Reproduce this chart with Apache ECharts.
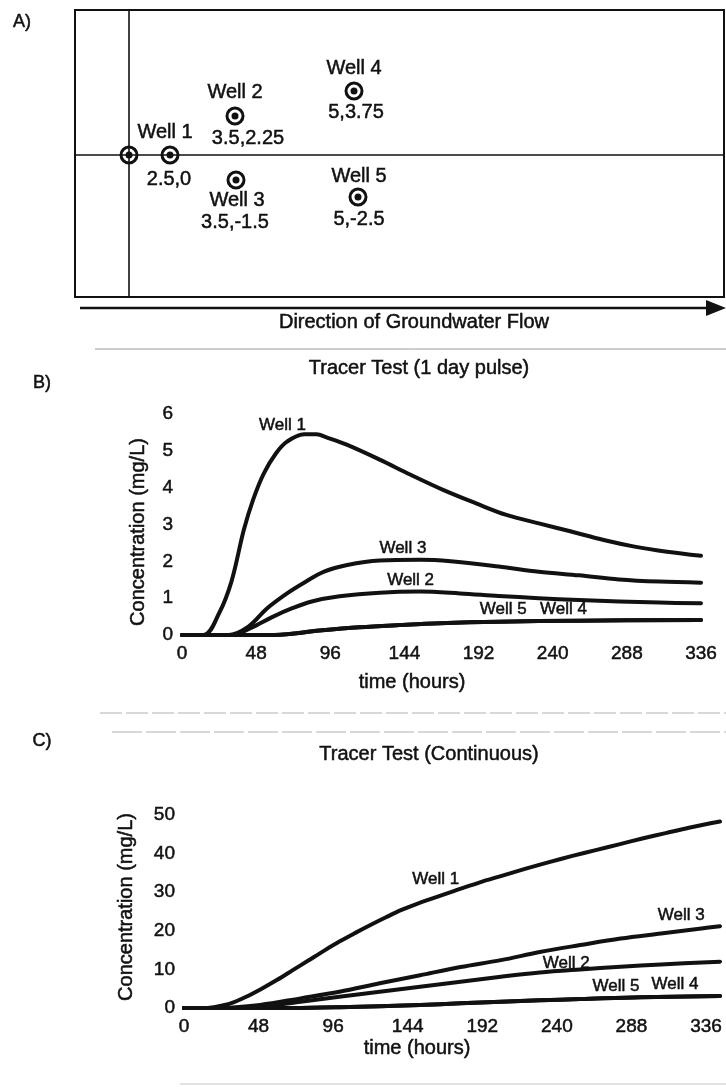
<!DOCTYPE html>
<html><head><meta charset="utf-8">
<script src="https://cdn.jsdelivr.net/npm/echarts@6/dist/echarts.min.js"></script>
<style>html,body{margin:0;padding:0;background:#fff}#c{width:726px;height:1087px}</style>
</head><body><div id="c"></div>
<script>
// ---------- Panel A: well layout (schematic, not to scale) ----------
const wellNames = ['Well 1', 'Well 2', 'Well 3', 'Well 4', 'Well 5'];
const wellCoordText = ['2.5,0', '3.5,2.25', '3.5,-1.5', '5,3.75', '5,-2.5'];
const wellMapX = [4.1, 10.6, 10.7, 22.5, 22.9];
const wellMapY = [0, 3.9, -2.5, 6.4, -4.2];
const sourceMapXY = [0, 0];

// ---------- Panel B: 1 day pulse (hours, mg/L) ----------
const hourTicks = [0, 48, 96, 144, 192, 240, 288, 336];
const pulseWell1 = [[0,0],[14,0],[24,0.59],[32,1.45],[40,2.85],[46,3.67],[53,4.39],[61,4.94],[68,5.25],[79,5.45],[87,5.45],[94,5.36],[107,5.16],[128,4.76],[148,4.35],[169,3.94],[190,3.58],[210,3.26],[231,3.03],[252,2.81],[273,2.58],[293,2.40],[314,2.26],[336,2.15]];
const pulseWell3 = [[0,0],[30,0],[43,0.23],[55,0.72],[68,1.13],[79,1.42],[92,1.72],[107,1.90],[128,2.02],[154,2.04],[174,2.0],[205,1.86],[231,1.72],[257,1.62],[283,1.51],[309,1.45],[336,1.42]];
const pulseWell2 = [[0,0],[32,0],[45,0.2],[58,0.48],[71,0.72],[84,0.91],[102,1.05],[128,1.15],[154,1.18],[180,1.13],[205,1.06],[231,1.0],[257,0.95],[283,0.91],[309,0.88],[336,0.86]];
const pulseWell5 = [[0,0],[60,0],[89,0.12],[115,0.21],[141,0.27],[167,0.32],[205,0.36],[257,0.39],[336,0.41]];
const pulseWell4 = [[0,0],[60,0],[89,0.12],[115,0.21],[141,0.27],[167,0.32],[205,0.36],[257,0.39],[336,0.41]];
const pulseYTicks = [0, 1, 2, 3, 4, 5, 6];
const pulseLabelNames = ['Well 1', 'Well 3', 'Well 2', 'Well 5', 'Well 4'];
const pulseLabelAt = [[65,5.68],[143,2.36],[148,1.48],[208,0.7],[247,0.7]];

// ---------- Panel C: continuous (hours, mg/L) ----------
const contWell1 = [[0,0],[15,0],[20,0.3],[30,1.2],[40,2.9],[50,5.0],[60,7.3],[70,9.8],[80,12.3],[90,14.8],[100,17.2],[110,19.4],[120,21.5],[130,23.5],[140,25.4],[150,27.0],[160,28.4],[175,30.5],[190,32.5],[205,34.3],[220,36.1],[235,37.8],[250,39.4],[265,40.9],[280,42.4],[295,43.9],[310,45.3],[325,46.7],[345,48.3]];
const contWell3 = [[0,0],[22,0],[49,0.8],[75,2.5],[100,4.2],[126,6.4],[152,8.5],[178,10.6],[204,12.4],[229,14.5],[255,16.3],[281,18.0],[307,19.3],[333,20.6],[345,21.2]];
const contWell2 = [[0,0],[30,0],[49,0.3],[75,1.6],[100,2.9],[126,4.2],[152,5.5],[178,6.8],[204,8.1],[229,9.2],[255,10.0],[281,10.7],[307,11.3],[345,12.0]];
const contWell5 = [[0,0],[70,0],[100,0.2],[152,0.8],[178,1.2],[204,1.6],[229,2.0],[255,2.3],[294,2.8],[345,3.1]];
const contWell4 = [[0,0],[70,0],[100,0.2],[152,0.8],[178,1.2],[204,1.6],[229,2.0],[255,2.3],[294,2.8],[345,3.1]];
const contYTicks = [0, 10, 20, 30, 40, 50];
const contLabelNames = ['Well 1', 'Well 3', 'Well 2', 'Well 5', 'Well 4'];
const contLabelAt = [[162,33.4],[320,24.1],[246,11.6],[278,5.5],[316,6.1]];

// ---------- styling / layout ----------
const FONT = '"Liberation Sans", Arial, Helvetica, sans-serif';
const INK = '#111111';
const nameOffsets = [[-5,-23],[0,-24],[1,20],[0,-23],[1,-21]];
const coordOffsets = [[-1,24],[13,22],[-1,42],[2,21],[1,22]];
const textInk = {color: INK, fontFamily: FONT, textBorderColor: INK, textBorderWidth: 0.5};
const clearItem = {color: 'rgba(0,0,0,0)', opacity: 1};

const chart = echarts.init(document.getElementById('c'), null, {renderer: 'canvas'});

function txt(x, y, text, size, extra) {
  return Object.assign({type: 'text', x: x, y: y, silent: true,
    style: {text: text, fill: INK, stroke: INK, lineWidth: 0.5, font: size + 'px ' + FONT,
      align: 'center', verticalAlign: 'middle'}}, extra || {});
}

const hiddenAxis = (idx, min, max) => ({gridIndex: idx, type: 'value', min: min, max: max,
  show: false, splitLine: {show: false}});

function curveSeries(name, data, axisIdx) {
  return {type: 'line', name: name, xAxisIndex: axisIdx, yAxisIndex: axisIdx, data: data,
    smooth: 0.35, showSymbol: false, symbol: 'none',
    lineStyle: {color: INK, width: 4, cap: 'round', join: 'round'}, animation: false, z: 3};
}
function labelSeries(names, at, axisIdx) {
  return {type: 'scatter', xAxisIndex: axisIdx, yAxisIndex: axisIdx, symbolSize: 1,
    itemStyle: clearItem, animation: false, silent: true, z: 5,
    data: names.map((n, i) => ({name: n, value: at[i]})),
    label: Object.assign({show: true, position: 'inside', formatter: '{b}', fontSize: 17}, textInk)};
}
function valueXAxis(idx, max) {
  return {gridIndex: idx, type: 'value', min: 0, max: max, interval: 48,
    axisLine: {show: false}, axisTick: {show: false}, splitLine: {show: false},
    axisLabel: Object.assign({fontSize: 19, margin: 9,
      formatter: v => (hourTicks.indexOf(v) >= 0 ? String(v) : '')}, textInk)};
}
function valueYAxis(idx, ticks) {
  return {gridIndex: idx, type: 'value', min: ticks[0], max: ticks[ticks.length - 1],
    interval: ticks[1] - ticks[0],
    axisLine: {show: false}, axisTick: {show: false}, splitLine: {show: false},
    axisLabel: Object.assign({fontSize: 19, margin: 9}, textInk)};
}

const option = {
  backgroundColor: '#fff',
  animation: false,
  grid: [
    {left: 75, top: 10, width: 649, height: 287, show: true, borderColor: INK, borderWidth: 2, backgroundColor: 'transparent', outerBoundsMode: 'none'},
    {left: 182, right: 25, top: 414, bottom: 452, outerBoundsMode: 'none'},
    {left: 184, right: 6, top: 815, bottom: 79, outerBoundsMode: 'none'}
  ],
  xAxis: [hiddenAxis(0, -5.4, 59.5), valueXAxis(1, 336), valueXAxis(2, 345)],
  yAxis: [hiddenAxis(0, -14.2, 14.5), valueYAxis(1, pulseYTicks), valueYAxis(2, contYTicks)],
  series: [
    // panel A: reference lines through the injection point
    {type: 'scatter', xAxisIndex: 0, yAxisIndex: 0, data: [], z: 1, silent: true,
      markLine: {silent: true, symbol: ['none', 'none'], label: {show: false}, animation: false,
        lineStyle: {color: INK, width: 1.6, type: 'solid'},
        data: [{xAxis: sourceMapXY[0]}, {yAxis: sourceMapXY[1]}]}},
    // well rings
    {type: 'scatter', xAxisIndex: 0, yAxisIndex: 0, symbol: 'circle', symbolSize: 16, z: 4, silent: true,
      itemStyle: {color: '#fff', borderColor: INK, borderWidth: 3, opacity: 1},
      data: [sourceMapXY].concat(wellMapX.map((x, i) => [x, wellMapY[i]]))},
    // well dots
    {type: 'scatter', xAxisIndex: 0, yAxisIndex: 0, symbol: 'circle', symbolSize: 7, z: 5, silent: true,
      itemStyle: {color: INK, opacity: 1},
      data: [sourceMapXY].concat(wellMapX.map((x, i) => [x, wellMapY[i]]))},
    // well names
    {type: 'scatter', xAxisIndex: 0, yAxisIndex: 0, symbolSize: 1, z: 6, silent: true,
      itemStyle: clearItem,
      data: wellNames.map((n, i) => ({name: n, value: [wellMapX[i], wellMapY[i]],
        label: {offset: nameOffsets[i]}})),
      label: Object.assign({show: true, position: 'inside', formatter: '{b}', fontSize: 20}, textInk)},
    // well coordinates
    {type: 'scatter', xAxisIndex: 0, yAxisIndex: 0, symbolSize: 1, z: 6, silent: true,
      itemStyle: clearItem,
      data: wellCoordText.map((t, i) => ({name: t, value: [wellMapX[i], wellMapY[i]],
        label: {offset: coordOffsets[i]}})),
      label: Object.assign({show: true, position: 'inside', formatter: '{b}', fontSize: 20}, textInk)},

    // panel B
    curveSeries('Well 1', pulseWell1, 1),
    curveSeries('Well 3', pulseWell3, 1),
    curveSeries('Well 2', pulseWell2, 1),
    curveSeries('Well 5', pulseWell5, 1),
    curveSeries('Well 4', pulseWell4, 1),
    labelSeries(pulseLabelNames, pulseLabelAt, 1),

    // panel C
    curveSeries('Well 1', contWell1, 2),
    curveSeries('Well 3', contWell3, 2),
    curveSeries('Well 2', contWell2, 2),
    curveSeries('Well 5', contWell5, 2),
    curveSeries('Well 4', contWell4, 2),
    labelSeries(contLabelNames, contLabelAt, 2)
  ],
  graphic: [
    txt(22, 22, 'A)', 18),
    // flow arrow
    {type: 'line', silent: true, shape: {x1: 80, y1: 308, x2: 712, y2: 308}, style: {stroke: INK, lineWidth: 2.5}},
    {type: 'polygon', silent: true, shape: {points: [[706, 300], [726, 308], [706, 316]]}, style: {fill: INK}},
    txt(414, 322, 'Direction of Groundwater Flow', 20),
    // separators
    {type: 'line', silent: true, shape: {x1: 95, y1: 349, x2: 726, y2: 349}, style: {stroke: '#9a9a9a', lineWidth: 1}},
    {type: 'line', silent: true, shape: {x1: 100, y1: 713, x2: 726, y2: 713}, style: {stroke: '#b0b0b0', lineWidth: 1, lineDash: [22, 4]}},
    {type: 'line', silent: true, shape: {x1: 112, y1: 732, x2: 726, y2: 732}, style: {stroke: '#b0b0b0', lineWidth: 1, lineDash: [30, 4]}},
    {type: 'line', silent: true, shape: {x1: 180, y1: 1084, x2: 726, y2: 1084}, style: {stroke: '#c4c4c4', lineWidth: 1}},
    // panel B texts
    txt(42, 383, 'B)', 18),
    txt(419, 368, 'Tracer Test (1 day pulse)', 20),
    txt(138, 532, 'Concentration (mg/L)', 20, {rotation: Math.PI / 2}),
    txt(412, 682, 'time (hours)', 20),
    // panel C texts
    txt(42, 741, 'C)', 18),
    txt(429, 754, 'Tracer Test (Continuous)', 20),
    txt(126, 907, 'Concentration (mg/L)', 20, {rotation: Math.PI / 2}),
    txt(417, 1048, 'time (hours)', 20)
  ]
};
chart.setOption(option);
</script></body></html>
